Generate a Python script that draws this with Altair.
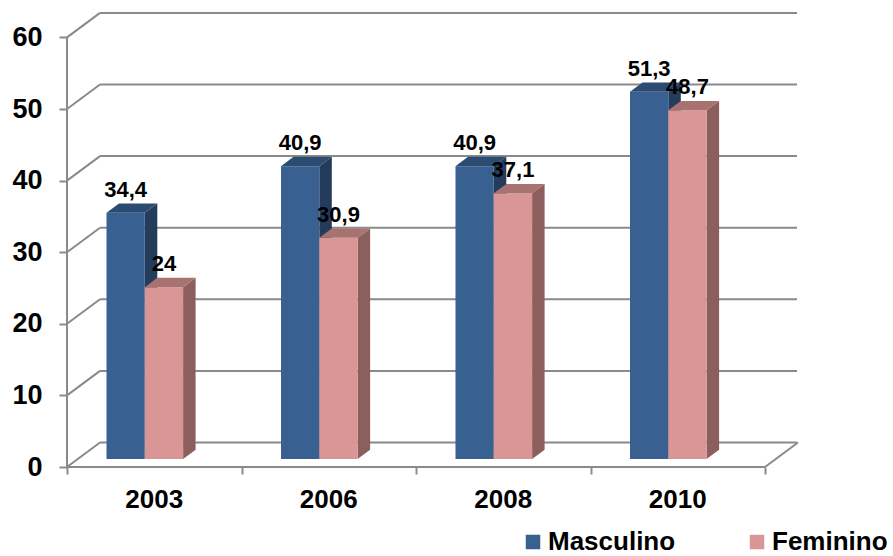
import altair as alt
import pandas as pd

# ---- data ----
years = ["2003", "2006", "2008", "2010"]
masculino = [34.4, 40.9, 40.9, 51.3]
feminino = [24, 30.9, 37.1, 48.7]
series = ["Masculino", "Feminino"]
y_ticks = [0, 10, 20, 30, 40, 50, 60]

# ---- geometry of the pseudo-3D box (pixel sizes converted to scale units) ----
W, H = 730, 455          # plot area
CAT_PX = 174.5           # width of one category on the front edge
UNIT_PX = 7.16           # pixels per value unit
X_MAX = W / CAT_PX
Y_MAX = H / UNIT_PX


def ux(px):
    return px / CAT_PX


def uy(px):
    return px / UNIT_PX


WALL_DX, WALL_DY = ux(33), uy(24.5)     # depth of the back wall
BASE_DY = uy(8)                         # bars stand a little behind the front edge
DEPTH_DX, DEPTH_DY = ux(12.5), uy(9.3)  # depth of each column
BAR_START = ux(39.5)
BAR_W = ux(38.3)

FRONT = {"Masculino": "#386091", "Feminino": "#D99694"}
TOP = {"Masculino": "#2C4B73", "Feminino": "#A87270"}
SIDE = {"Masculino": "#243C5C", "Feminino": "#8C5E5D"}
GRID = "#8A8A8A"
FONT = "Liberation Sans"


def fmt(v):
    return f"{v:g}".replace(".", ",")


front_rows, face_rows, label_rows = [], [], []
for i, year in enumerate(years):
    for s, (name, vals) in enumerate(zip(series, [masculino, feminino])):
        v = vals[i]
        x0 = i + BAR_START + s * BAR_W
        x1 = x0 + BAR_W
        base = BASE_DY
        top = v + BASE_DY
        bid = f"{year}-{name}"
        front_rows.append(dict(serie=name, x0=x0, x1=x1, y0=base, y1=top))
        # right side face, drawn as a closed polygon
        for k, (px, py) in enumerate([
            (x1, base), (x1 + DEPTH_DX, base + DEPTH_DY),
            (x1 + DEPTH_DX, top + DEPTH_DY), (x1, top),
        ]):
            face_rows.append(dict(fid=f"s-{bid}", layer=0, k=k, x=px, y=py, shade=SIDE[name]))
        # top face
        for k, (px, py) in enumerate([
            (x0, top), (x1, top),
            (x1 + DEPTH_DX, top + DEPTH_DY), (x0 + DEPTH_DX, top + DEPTH_DY),
        ]):
            face_rows.append(dict(fid=f"t-{bid}", layer=1, k=k, x=px, y=py, shade=TOP[name]))
        label_rows.append(dict(x=(x0 + x1) / 2, y=top, text=fmt(v)))

faces = pd.DataFrame(face_rows)

# box frame: back-wall gridlines, side-wall diagonals, front axis and floor edges
frame_rows = []
for t in y_ticks:
    frame_rows.append(dict(x=WALL_DX, x2=X_MAX, y=t + WALL_DY, y2=t + WALL_DY))
    frame_rows.append(dict(x=0, x2=WALL_DX, y=t, y2=t + WALL_DY))
frame_rows.append(dict(x=0, x2=0, y=0, y2=max(y_ticks)))
frame_rows.append(dict(x=0, x2=len(years), y=0, y2=0))
frame_rows.append(dict(x=len(years), x2=len(years) + WALL_DX, y=0, y2=WALL_DY))

cat_rows = [dict(x=i + 0.5, y=0, text=y) for i, y in enumerate(years)]

xs = alt.Scale(domain=[0, X_MAX], nice=False, zero=False)
ys = alt.Scale(domain=[0, Y_MAX], nice=False, zero=False)

# the same axis definitions are shared by every layer so they merge cleanly
x_axis = alt.Axis(
    values=list(range(len(years) + 1)), labels=False, domain=False, grid=False,
    tickColor=GRID, tickWidth=2, tickSize=7, title=None)
y_axis = alt.Axis(
    values=y_ticks, domain=False, grid=False, tickColor=GRID, tickWidth=2,
    tickSize=8, labelPadding=17, labelFont=FONT, labelFontSize=27,
    labelFontWeight="bold", labelColor="black", title=None)


def X(field):
    return alt.X(field, scale=xs, axis=x_axis, title=None)


def Y(field):
    return alt.Y(field, scale=ys, axis=y_axis, title=None)


frame = alt.Chart(pd.DataFrame(frame_rows)).mark_rule(
    color=GRID, strokeWidth=2
).encode(x=X("x:Q"), x2="x2:Q", y=Y("y:Q"), y2="y2:Q")

sides = alt.Chart(faces[faces.layer == 0]).mark_line(filled=True, strokeWidth=0).encode(
    x=X("x:Q"), y=Y("y:Q"),
    detail="fid:N",
    order="k:Q",
    fill=alt.Fill("shade:N", scale=None),
)

fronts = alt.Chart(pd.DataFrame(front_rows)).mark_rect().encode(
    x=X("x0:Q"), x2="x1:Q", y=Y("y0:Q"), y2="y1:Q",
    color=alt.Color("serie:N", scale=alt.Scale(domain=series, range=[FRONT[s] for s in series]),
                    sort=series,
                    legend=alt.Legend(
                        title=None, orient="none", legendX=453, legendY=517,
                        direction="horizontal", symbolType="square", symbolSize=210,
                        symbolStrokeWidth=0, labelFont=FONT, labelFontSize=26,
                        labelFontWeight="bold", labelColor="black", labelOffset=2,
                        columnPadding=68)),
)

tops = alt.Chart(faces[faces.layer == 1]).mark_line(filled=True, strokeWidth=0).encode(
    x=X("x:Q"), y=Y("y:Q"),
    detail="fid:N",
    order="k:Q",
    fill=alt.Fill("shade:N", scale=None),
)

labels = alt.Chart(pd.DataFrame(label_rows)).mark_text(
    font=FONT, fontSize=22, fontWeight="bold", color="black",
    baseline="alphabetic", dy=-16,
).encode(x=X("x:Q"), y=Y("y:Q"), text="text:N")

cats = alt.Chart(pd.DataFrame(cat_rows)).mark_text(
    font=FONT, fontSize=26, fontWeight="bold", color="black",
    baseline="alphabetic", dy=41,
).encode(x=X("x:Q"), y=Y("y:Q"), text="text:N")

chart = alt.layer(frame, sides, fronts, tops, labels, cats).properties(
    width=W, height=H,
    padding={"left": 67, "top": 12, "right": 96, "bottom": 89},
    autosize=alt.AutoSizeParams(type="none"),
).configure_view(stroke=None)

chart.save("out.html", embed_options={"renderer": "svg", "actions": False})
